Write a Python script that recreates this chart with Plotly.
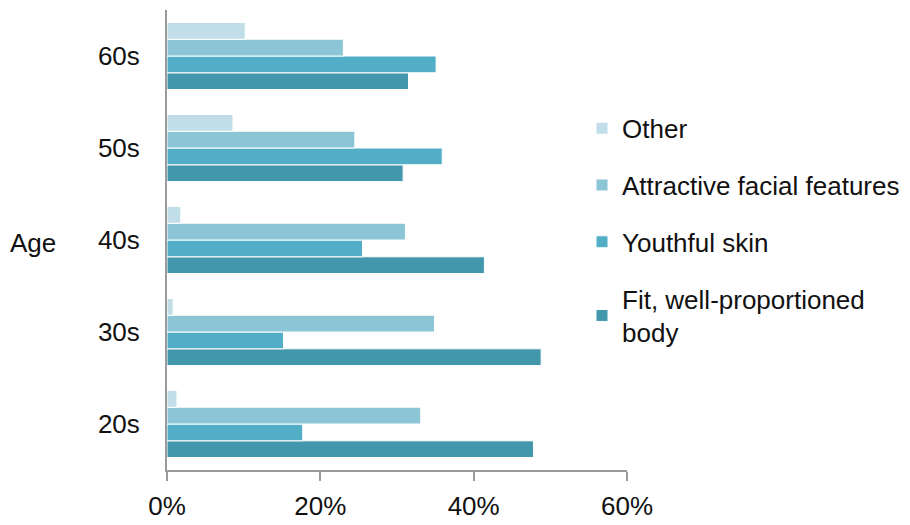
import plotly.graph_objects as go

categories = ["20s", "30s", "40s", "50s", "60s"]
series_names = ["Fit, well-proportioned<br>body", "Youthful skin", "Attractive facial features", "Other"]
fit_body = [47.8, 48.8, 41.4, 30.8, 31.5]
youthful_skin = [17.7, 15.2, 25.5, 35.9, 35.1]
facial_features = [33.1, 34.9, 31.1, 24.5, 23.0]
other = [1.3, 0.8, 1.8, 8.6, 10.2]
series_values = [fit_body, youthful_skin, facial_features, other]
legend_ranks = [4, 3, 2, 1]
colors = ["#4397ab", "#52aec6", "#8cc6d6", "#c1dde7"]
x_ticks = [0, 20, 40, 60]
x_tick_labels = ["0%", "20%", "40%", "60%"]

FONT = "Liberation Sans, Arial, Helvetica, sans-serif"
FS = 26

fig = go.Figure()
for i, (name, vals, col, rk) in enumerate(zip(series_names, series_values, colors, legend_ranks)):
    fig.add_trace(go.Bar(
        y=categories, x=vals, name=name, orientation="h",
        marker=dict(color=col, line=dict(color="white", width=1)),
        legendgroup=f"g{i}", legendrank=rk,
    ))

fig.update_layout(
    width=910, height=525,
    margin=dict(l=159, r=291, t=2, b=63),
    paper_bgcolor="white", plot_bgcolor="white",
    barmode="group", bargap=0.27, bargroupgap=0,
    font=dict(family=FONT, size=FS, color="#111111"),
    showlegend=True,
    legend=dict(
        x=0.9022, y=0.794, xanchor="left", yanchor="top",
        traceorder="grouped", tracegroupgap=20,
        font=dict(family=FONT, size=FS, color="#111111"),
        bgcolor="rgba(0,0,0,0)",
    ),
    xaxis=dict(
        range=[0, 60], tickvals=x_ticks, ticktext=x_tick_labels,
        showgrid=False, zeroline=False,
        showline=True, linecolor="#9a9a9a", linewidth=2,
        ticks="outside", ticklen=9, tickwidth=2, tickcolor="#9a9a9a",
        ticklabelstandoff=3,
        tickfont=dict(size=FS, color="#111111"),
        fixedrange=True,
    ),
    yaxis=dict(
        showgrid=False, zeroline=False,
        showline=True, linecolor="#9a9a9a", linewidth=2,
        ticks="", ticklabelstandoff=20,
        tickfont=dict(size=FS, color="#111111"),
        categoryorder="array", categoryarray=categories,
    ),
    annotations=[dict(
        text="Age", xref="paper", yref="paper",
        x=(0 - 159) / 460, y=(470 - 243) / 460,
        xanchor="left", yanchor="middle", showarrow=False,
        font=dict(family=FONT, size=FS, color="#111111"),
    )],
)

fig.write_html("out.html")
